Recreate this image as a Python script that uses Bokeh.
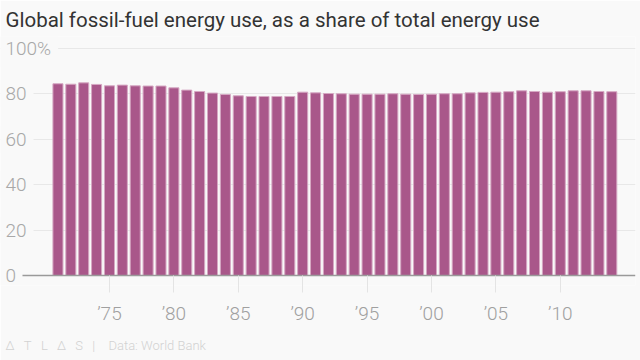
from bokeh.plotting import figure
from bokeh.models import Range1d, FixedTicker, Label, Title
from bokeh.embed import file_html
from bokeh.resources import INLINE

# ---- data ----
years = list(range(1971, 2015))
share = [84.4, 84.2, 84.8, 84.1, 83.5, 83.8, 83.5, 83.4, 83.4, 82.6,
         81.6, 81.0, 80.3, 79.7, 79.1, 78.8, 78.8, 78.8, 78.8, 80.7,
         80.4, 80.1, 80.0, 79.8, 79.8, 79.8, 80.0, 79.8, 79.7, 79.8,
         80.0, 80.0, 80.4, 80.6, 80.7, 80.9, 81.3, 81.0, 80.7, 80.9,
         81.3, 81.3, 81.0, 80.9]
x_ticks = [1975, 1980, 1985, 1990, 1995, 2000, 2005, 2010]
x_tick_labels = ["\u201975", "\u201980", "\u201985", "\u201990", "\u201995", "\u201900", "\u201905", "\u201910"]
y_ticks = [0, 20, 40, 60, 80, 100]
y_tick_labels = ["0", "20", "40", "60", "80", "100%"]

title_text = "Global fossil-fuel energy use, as a share of total energy use"
footer_text = ("\u0394\u2002\u2009T\u2002\u2009L\u2002\u2009\u0394\u2002\u2009S"
               "\u2002\u2009|\u2002\u2002Data: World Bank")

BG = "#f9f9f9"
BAR = "#a9578a"
FONT = "'Roboto Light', Roboto"

FRAME_W = 635
X0, X1 = 1966.54, 2015.84
PX_PER_UNIT = 2.271          # vertical scale of the reference
Y0 = -10 / PX_PER_UNIT       # frame extends 10px below the zero line
Y1 = 105.2

p = figure(width=640, height=360, output_backend="svg", toolbar_location=None,
           x_range=Range1d(X0, X1), y_range=Range1d(Y0, Y1),
           min_border_left=0, min_border_right=640 - FRAME_W, min_border_top=36, min_border_bottom=75,
           background_fill_color=BG, border_fill_color=BG, outline_line_color=None)

p.title.text = title_text
p.title.text_font = "Roboto"
p.title.text_font_size = "20.5px"
p.title.text_font_style = "normal"
p.title.text_color = "#333333"
p.title.align = "left"
p.title.offset = 5

p.vbar(x=years, top=share, bottom=0, width=0.78,
       fill_color=BAR, line_color="#d6a8c3", line_width=1)

# baseline (starts a little right of the "0" label)
base_start = X0 + 22 * (X1 - X0) / FRAME_W
p.segment(x0=[base_start], y0=[0], x1=[X1], y1=[0], line_color="#9a9a9a", line_width=1.5)

p.yaxis.visible = False
p.xgrid.visible = False
p.ygrid.ticker = FixedTicker(ticks=[t for t in y_ticks if t > 0])
p.ygrid.grid_line_color = "#e8e8e8"
p.ygrid.grid_line_width = 1

ax = p.xaxis[0]
ax.ticker = FixedTicker(ticks=x_ticks)
ax.major_label_overrides = {t: l for t, l in zip(x_ticks, x_tick_labels)}
ax.axis_line_color = None
ax.major_tick_in = 10
ax.major_tick_out = 7
ax.major_tick_line_color = "#e4e4e4"
ax.minor_tick_line_color = None
ax.major_label_standoff = 9
ax.major_label_text_font = FONT
ax.major_label_text_font_size = "19px"
ax.major_label_text_color = "#a0a0a0"

for t, lab in zip(y_ticks, y_tick_labels):
    kw = {}
    if t > 0:
        kw = dict(background_fill_color=BG, padding=7)
        x = -2
    else:
        x = 5
    p.add_layout(Label(x=x, y=t, x_units="screen", y_units="data", text=lab,
                       text_align="left", text_baseline="middle",
                       text_font=FONT, text_font_size="19px", text_color="#a8a8a8", **kw))

p.add_layout(Title(text=footer_text, align="left", offset=5, standoff=16, text_font=FONT,
                   text_font_size="13px", text_font_style="normal", text_color="#d2d2d2"), "below")

open("out.html", "w").write(file_html(p, INLINE))
